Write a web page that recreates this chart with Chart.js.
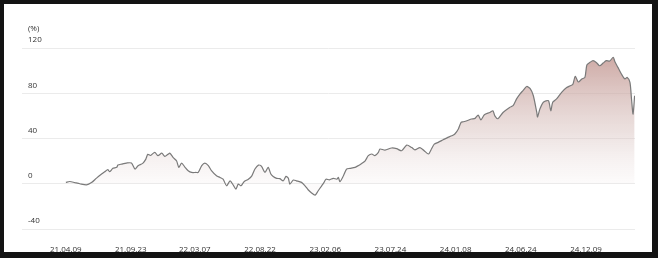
<!DOCTYPE html>
<html>
<head>
<meta charset="utf-8">
<script src="https://cdn.jsdelivr.net/npm/chart.js@4.4.1/dist/chart.umd.min.js"></script>
<style>
  html, body { margin: 0; padding: 0; background: #131313; width: 658px; height: 258px; overflow: hidden; }
  #frame { position: absolute; left: 4px; top: 4px; width: 648px; height: 248px; background: #ffffff; }
  #wrap { position: absolute; left: 0; top: 0; width: 648px; height: 248px; }
  #unit { position: absolute; left: 24px; top: 18px; font: 8px "Open Sans", sans-serif; color: #333; }
</style>
</head>
<body>
<div id="frame">
  <div id="wrap"><canvas id="c" width="648" height="248"></canvas></div>
  <div id="unit">(%)</div>
</div>
<script>
// Days elapsed since 2021-04-09 for each observation
const dayOffsets = [0,10,23,36,53,66,79,92,100,108,113,121,131,134,144,156,169,178,186,198,206,211,218,229,237,247,255,263,268,276,285,291,298,307,315,324,335,341,350,358,367,375,388,397,405,414,423,431,438,444,451,459,470,479,487,496,504,513,521,528,534,543,551,560,567,573,577,586,594,607,616,624,633,642,650,659,665,670,679,689,698,702,706,715,723,732,745,753,762,771,779,788,796,805,809,822,839,852,865,878,891,899,912,923,934,942,949,959,972,984,994,1002,1011,1018,1024,1033,1045,1054,1062,1069,1078,1092,1100,1105,1113,1126,1143,1152,1161,1170,1178,1187,1196,1204,1213,1215,1221,1230,1243,1249,1254,1264,1277,1290,1299,1306,1312,1320,1329,1337,1342,1350,1358,1367,1375,1384,1392,1401,1410,1414,1422,1431,1440,1446,1453,1457,1461,1465];
// Cumulative return (%)
const returns = [1.2,2,1,0,-1,1,5,8.6,10.6,12.4,10.6,13.6,14.5,16.5,17.4,18.3,18.3,13,16,18,21.8,26,25,27.8,24.8,27,24.2,26,27,23.3,20.3,14.5,18.3,14.5,11.5,10,10,10,16,18.3,16,11.5,7,5.6,4,-1.8,2.6,-1.1,-4.7,-0.3,-1.8,1.8,4,7,13,16.5,15.4,10,14.5,8.6,6.5,4.8,4.5,2.6,6.5,4.8,-0.3,3.3,2.6,1.2,-1.8,-5.3,-8.2,-10,-6.2,-1.8,1.2,4,3.5,4.8,4,5.6,1.8,7,13,13.6,14.5,16,18,20.3,24.8,26.3,24.8,27.8,30.7,29.8,31.6,31,29.2,34.2,32,30,32,29.2,26.3,31,35,36.6,38.9,41,42.4,44,48.4,54.3,54.8,55.7,57.2,57.8,60.7,56.5,61,63,64.5,60,57.5,63,67.5,69,75,79.5,82.5,86,84,78,63,59,66,72,73.4,64.5,72,75,80.8,85,86.6,88,95,90,92.6,94,105,107.3,108.8,107,104.3,106.7,108.8,108.5,111.8,108,102.9,97,92.6,94,89.7,74.9,61.6,77.8];
// X-axis tick labels and their day offsets
const tickLabels = ['21.04.09','21.09.23','22.03.07','22.08.22','23.02.06','23.07.24','24.01.08','24.06.24','24.12.09'];
const tickDays = [0,167,332,500,668,836,1004,1172,1340];
// Y-axis ticks
const yTicks = [-40,0,40,80,120];

const points = dayOffsets.map((d, i) => ({x: d, y: returns[i]}));

new Chart(document.getElementById('c'), {
  type: 'line',
  data: {
    datasets: [{
      data: points,
      borderColor: '#7a7a7a',
      borderWidth: 1.2,
      pointRadius: 0,
      tension: 0.25,
      fill: 'origin',
      backgroundColor: (ctx) => {
        const chart = ctx.chart;
        if (!chart.chartArea) return 'rgba(0,0,0,0)';
        const y = chart.scales.y;
        const g = chart.ctx.createLinearGradient(0, y.getPixelForValue(112), 0, y.getPixelForValue(0));
        g.addColorStop(0, 'rgba(192,146,140,0.78)');
        g.addColorStop(0.6, 'rgba(214,190,187,0.45)');
        g.addColorStop(1, 'rgba(235,225,225,0.15)');
        return g;
      }
    }]
  },
  options: {
    responsive: false,
    animation: false,
    layout: { padding: { left: 18, right: 17, top: 44, bottom: 0 } },
    plugins: { legend: { display: false }, tooltip: { enabled: false } },
    scales: {
      x: {
        type: 'linear',
        min: -113,
        max: 1466,
        grid: { display: false },
        border: { display: false },
        afterBuildTicks: (s) => { s.ticks = tickDays.map(v => ({ value: v })); },
        afterFit: (s) => { s.height = 23; },
        ticks: {
          autoSkip: false,
          maxRotation: 0,
          padding: 8,
          color: '#333',
          font: { family: 'Open Sans', size: 8 },
          callback: (v) => { const i = tickDays.indexOf(v); return i >= 0 ? tickLabels[i] : ''; }
        }
      },
      y: {
        min: -40,
        max: 120,
        afterBuildTicks: (s) => { s.ticks = yTicks.map(v => ({ value: v })); },
        afterFit: (s) => { s.width = 0; },
        grid: { color: '#ebebeb', lineWidth: 1, drawTicks: false },
        border: { display: false },
        ticks: {
          mirror: true,
          padding: 6,
          labelOffset: -8,
          color: '#333',
          font: { family: 'Open Sans', size: 8 }
        }
      }
    }
  }
});
</script>
</body>
</html>
